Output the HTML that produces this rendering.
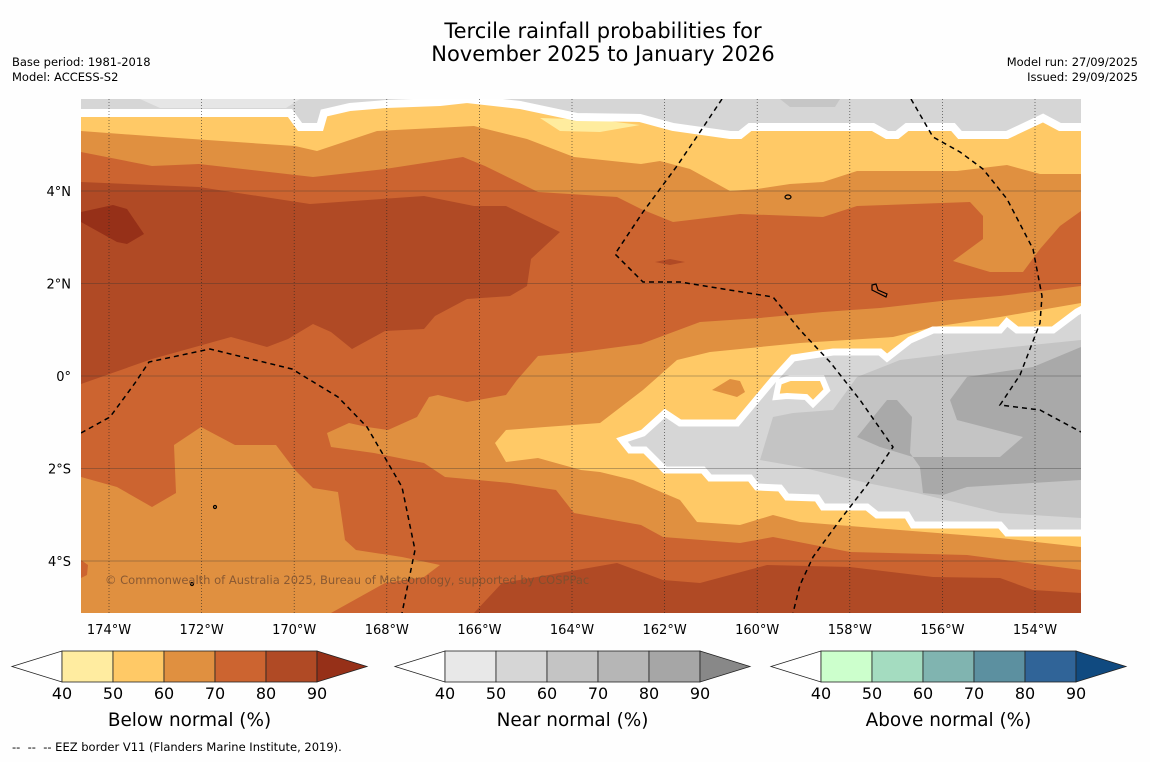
<!DOCTYPE html>
<html><head><meta charset="utf-8">
<style>
html,body{margin:0;padding:0;background:#fefefe;}
body{width:1150px;height:758px;overflow:hidden;font-family:"DejaVu Sans","Liberation Sans",sans-serif;}
svg text{font-family:"DejaVu Sans","Liberation Sans",sans-serif;}
</style></head>
<body>
<svg id="chart" width="1150" height="758" viewBox="0 0 1150 758" xmlns="http://www.w3.org/2000/svg">
<rect width="1150" height="758" fill="#fefefe"/>
<text x="603" y="38" font-size="21" text-anchor="middle" fill="#000">Tercile rainfall probabilities for</text>
<text x="603" y="61" font-size="21" text-anchor="middle" fill="#000">November 2025 to January 2026</text>
<text x="12" y="66" font-size="11.5">Base period: 1981-2018</text>
<text x="12" y="81" font-size="11.5">Model: ACCESS-S2</text>
<text x="1138" y="66" font-size="11.5" text-anchor="end">Model run: 27/09/2025</text>
<text x="1138" y="81" font-size="11.5" text-anchor="end">Issued: 29/09/2025</text>

<defs><clipPath id="mapclip"><rect x="81" y="99" width="1000" height="514"/></clipPath></defs>
<g clip-path="url(#mapclip)">
<rect x="81" y="99" width="1000" height="514" fill="#cc6430"/>
<path fill="#e09040" d="M81,99 L1081,99 L1081,211 L1060,226 L1040,249 L1023,272 L990,272 L953,261 L983,239 L983,216 L970,202 L857,206 L823,217 L740,214 L673,222 L641,209 L617,197 L538,192 L485,166 L463,157 L385,169 L313,177 L199,164 L152,166 L81,152 Z"/>
<path fill="#ffc966" d="M81,99 L1081,99 L1081,174 L1040,174 L1007,165 L957,171 L857,171 L823,182 L790,184 L757,189 L730,191 L690,169 L660,161 L641,164 L574,157 L527,139 L474,126 L377,131 L317,151 L295,146 L163,137 L81,131 Z"/>
<path fill="#ffec9e" d="M540,118 L600,120 L640,125 L600,132 L560,131 Z"/>
<path fill="#d6d6d6" stroke="#ffffff" stroke-width="8" d="M70,90 L1090,90 L1090,127 L1060,127 L1043,118 L1007,135 L960,135 L953,127 L907,127 L897,135 L887,135 L873,127 L750,127 L740,135 L730,135 L673,127 L640,118 L577,117 L520,105 L467,99 L440,102 L386,104 L350,107 L324,113 L320,127 L300,127 L290,113 L70,113 Z"/>
<path fill="#e6e6e6" d="M81,99 L140,99 L160,108 L286,108 L300,99 Z"/>
<path fill="#c6c6c6" d="M780,99 L840,99 L835,107 L790,107 Z"/>
<path fill="#b04a25" d="M81,182 L199,187 L310,204 L424,196 L474,206 L506,206 L560,232 L531,259 L527,286 L510,296 L467,299 L435,316 L424,329 L385,331 L352,349 L331,332 L313,324 L288,339 L267,347 L231,337 L152,359 L81,384 Z"/>
<path fill="#963018" d="M81,212 L113,205 L127,209 L144,234 L127,244 L117,242 L81,222 Z"/>
<path fill="#b04a25" d="M655,262 L670,259 L685,262 L670,265 Z"/>
<path fill="#e09040" d="M81,477 L117,487 L152,507 L176,493 L174,445 L201,427 L235,445 L276,445 L295,470 L313,488 L338,492 L345,540 L356,550 L402,557 L440,565 L424,577 L385,583 L331,613 L81,613 Z"/>
<path fill="#cc6430" d="M81,560 L88,565 L87,575 L81,578 Z"/>
<path fill="#e09040" d="M327,433 L349,423 L367,427 L388,430 L417,417 L429,397 L438,395 L467,402 L506,395 L517,380 L538,356 L581,352 L641,344 L700,322 L760,318 L823,312 L880,308 L950,300 L1000,296 L1033,292 L1081,286 L1081,570 L967,555 L850,552 L773,537 L740,543 L663,537 L641,525 L574,513 L556,490 L510,483 L445,477 L424,463 L374,453 L331,447 Z"/>
<path fill="#ffc966" d="M495,443 L506,430 L545,427 L600,423 L643,390 L677,360 L710,352 L800,343 L893,337 L933,327 L1000,317 L1081,303 L1081,547 L1000,538 L900,530 L800,522 L773,515 L740,525 L697,522 L680,500 L633,480 L600,472 L581,470 L538,458 L506,462 Z"/>
<path fill="#e09040" d="M712,390 L730,379 L740,381 L745,392 L737,397 Z"/>
<path fill="#b04a25" d="M474,613 L502,583 L577,570 L617,563 L663,580 L700,583 L767,565 L850,567 L933,577 L1000,578 L1033,590 L1081,593 L1081,613 Z"/>
<path fill="#d6d6d6" stroke="#ffffff" stroke-width="7" d="M622,440 L643,433 L665,413 L680,423 L737,423 L773,380 L793,358 L833,352 L880,352 L887,358 L910,340 L933,330 L1000,330 L1007,322 L1017,330 L1053,330 L1077,312 L1090,305 L1090,533 L1007,533 L1000,525 L913,525 L907,515 L877,515 L867,507 L823,507 L817,498 L787,497 L780,488 L757,487 L750,478 L710,478 L703,470 L665,470 L645,450 L630,450 Z"/>
<path fill="#ffc966" stroke="#ffffff" stroke-width="6" d="M776,397 L779,382 L790,378 L822,378 L827,390 L813,404 L806,397 L787,396 Z"/>
<path fill="#c4c4c4" d="M760,460 L773,417 L793,413 L833,410 L857,377 L900,360 L983,350 L1081,340 L1081,518 L1000,513 L917,493 L867,483 L800,467 Z"/>
<path fill="#a9a9a9" d="M857,437 L887,400 L897,400 L912,417 L910,453 L920,467 L923,493 L943,495 L967,487 L1081,480 L1081,347 L1033,367 L967,377 L950,400 L957,420 L1023,437 L1000,457 L913,457 L880,447 Z"/>
</g>

<g id="grid"></g>
<g id="eez" fill="none" stroke="#000" stroke-width="1.5" stroke-dasharray="5,4" clip-path="url(#mapclip)">
<path d="M81,433 L110,417 L135,383 L149,362 L210,349 L292,369 L338,397 L367,427 L402,487 L415,550 L402,613"/>
<path d="M722,99 L700,132 L677,166 L643,212 L615,254 L643,282 L680,282 L773,297 L800,330 L830,362 L860,400 L893,447 L867,485 L840,520 L813,557 L800,585 L793,613"/>
<path d="M911,99 L933,137 L960,152 L983,169 L1007,199 L1033,249 L1042,296 L1040,323 L1020,375 L1000,405 L1040,410 L1081,432"/>
</g>
<g fill="none" stroke="#000" stroke-width="1.2">
<ellipse cx="788" cy="197" rx="3" ry="2"/>
<path d="M872,285 L876,284 L878,290 L887,294 L886,297 L876,292 L872,290 Z"/>
<circle cx="215" cy="507" r="1.5"/>
<circle cx="192" cy="584" r="1.5"/>
</g>
<text x="105" y="584" font-size="11.5" fill="#7a5030" fill-opacity="0.85">© Commonwealth of Australia 2025, Bureau of Meteorology, supported by COSPPac</text>
<g id="axes"></g>
<g id="colorbars"></g>
<text x="12" y="751" font-size="11.5" style="white-space:pre" xml:space="preserve">--  --  -- EEZ border V11 (Flanders Marine Institute, 2019).</text>
</svg>
<script>
const lonTicks = [-174,-172,-170,-168,-166,-164,-162,-160,-158,-156,-154];
const latTicks = [4,2,0,-2,-4];
const levels = [40,50,60,70,80,90];
const belowColors = ["#ffeca0","#ffc966","#e09040","#cc6430","#b04a25"];
const nearColors = ["#e8e8e8","#d6d6d6","#c4c4c4","#b6b6b6","#a6a6a6"];
const aboveColors = ["#ccffcc","#a4dcc0","#80b4b0","#5c90a0","#306498"];
const extColors = {below:"#963018", near:"#888888", above:"#104a80"};
const cbTitles = ["Below normal (%)","Near normal (%)","Above normal (%)"];

const NS="http://www.w3.org/2000/svg";
function xLon(lon){ return 109 + (lon + 174) * 46.3; }
function yLat(lat){ return 376 - lat * 46.25; }
function mk(tag, attrs, parent){ const e=document.createElementNS(NS,tag); for(const k in attrs) e.setAttribute(k,attrs[k]); parent.appendChild(e); return e; }
function lonLabel(l){ return Math.abs(l)+"°"+(l<0?"W":l>0?"E":""); }
function latLabel(l){ return Math.abs(l)+"°"+(l>0?"N":l<0?"S":""); }

const grid=document.getElementById('grid');
const axes=document.getElementById('axes');
lonTicks.forEach(l=>{
  const x=xLon(l);
  const g=mk('line',{x1:x,x2:x,y1:99,y2:613,stroke:'#222','stroke-width':0.7,'stroke-dasharray':'1,2','stroke-opacity':0.8},grid);
  
  
  const t=mk('text',{x:x,y:634,'font-size':13,'text-anchor':'middle'},axes);
  t.textContent=lonLabel(l);
  
  
});
latTicks.forEach(l=>{
  const y=yLat(l);
  const g=mk('line',{x1:81,x2:1081,y1:y,y2:y,stroke:'#333','stroke-width':0.8,'stroke-opacity':0.45},grid);
  
  
  const t=mk('text',{x:71,y:y+5,'font-size':13,'text-anchor':'end'},axes);
  t.textContent=latLabel(l);
  
  
});

const cbg=document.getElementById('colorbars');
const cbX=[62,445,821];
const cbNames=['below','near','above'];
const sets=[belowColors,nearColors,aboveColors];
const boxW=51, y0=651, h=31;
function cbScale(i,v){ return cbX[i] + (v-levels[0])/(levels[1]-levels[0])*boxW; }
sets.forEach((cols,i)=>{
  const x0=cbX[i], x1=cbScale(i,levels[levels.length-1]);
  const lt=mk('polygon',{points:`${x0-50},${y0+h/2} ${x0},${y0} ${x0},${y0+h}`,fill:'#fff',stroke:'#222','stroke-width':0.8},cbg);
  
  
  cols.forEach((c,j)=>{
    const r=mk('rect',{x:cbScale(i,levels[j]),y:y0,width:cbScale(i,levels[j+1])-cbScale(i,levels[j]),height:h,fill:c,stroke:'#222','stroke-width':0.8},cbg);
    
    
  });
  const rt=mk('polygon',{points:`${x1},${y0} ${x1+50},${y0+h/2} ${x1},${y0+h}`,fill:extColors[cbNames[i]],stroke:'#222','stroke-width':0.8},cbg);
  
  
  levels.forEach(v=>{
    const t=mk('text',{x:cbScale(i,v),y:699,'font-size':16,'text-anchor':'middle'},cbg);
    t.textContent=v;
    
    
  });
  const tt=mk('text',{x:(x0+x1)/2,y:726,'font-size':18.4,'text-anchor':'middle'},cbg);
  tt.textContent=cbTitles[i];
  
  
});
</script>
</body></html>
